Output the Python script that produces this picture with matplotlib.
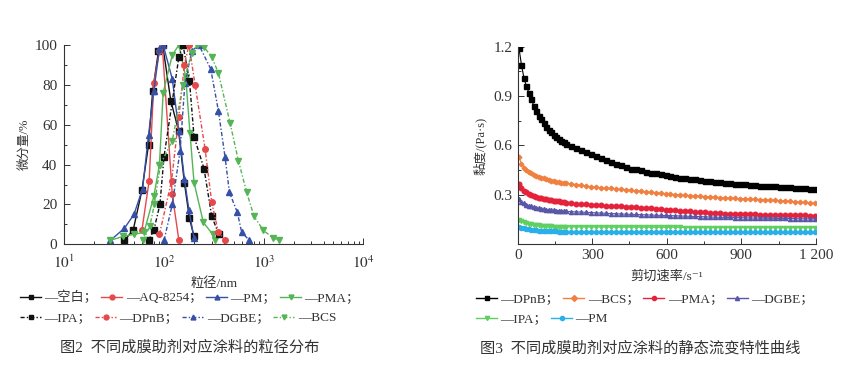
import numpy as np
import matplotlib
matplotlib.use("Agg")
import matplotlib.pyplot as plt
from matplotlib.lines import Line2D
from matplotlib.ticker import MultipleLocator, NullFormatter

SERIF_CJK = ['Liberation Serif', 'Noto Sans CJK SC', 'DejaVu Sans']
plt.rcParams['font.family'] = SERIF_CJK
plt.rcParams['mathtext.fontset'] = 'stix'

# ---------------- Figure 2 data: particle size distribution ----------------
blank_x = [40, 49, 60, 70, 77, 88, 97, 117, 140, 160, 180, 200]
blank_y = [2, 7, 27, 50, 77, 97, 100, 72, 57, 31, 13, 4]
aq_x = [60, 71, 79, 90, 96, 121, 141]
aq_y = [7, 32, 81, 97, 100, 25, 2]
pm_x = [29, 40, 50, 61, 70, 79, 90, 98, 121, 141, 160, 178, 200]
pm_y = [2, 8, 15, 28, 55, 77, 98, 100, 83, 57, 33, 17, 3]
pma_x = [29, 39, 50, 63, 79, 90, 98, 121, 141, 165, 182, 200, 248, 308, 325]
pma_y = [2, 4, 5, 6, 24, 40, 76, 95, 100, 84, 56, 31, 11, 5, 2]
ipa_x = [70, 79, 91, 100, 141, 155, 180, 200, 252, 301, 355]
ipa_y = [2, 7, 20, 44, 94, 100, 82, 54, 38, 14, 5]
dpnb_x = [90, 119, 141, 160, 178, 205, 258, 301, 351, 409]
dpnb_y = [5, 32, 64, 90, 100, 80, 48, 21, 6, 2]
dgbe_x = [100, 121, 145, 162, 190, 224, 294, 351, 409, 453, 544, 601, 718]
dgbe_y = [2, 20, 47, 81, 97, 100, 88, 67, 44, 26, 16, 6, 2]
bcs_x = [62, 72, 80, 92, 121, 155, 190, 215, 252, 301, 351, 459, 557, 675, 800, 993, 1250, 1436]
bcs_y = [2, 9, 20, 40, 52, 80, 96, 100, 99, 94, 86, 61, 42, 26, 14, 7, 3, 2]

# ---------------- Figure 3 data: viscosity vs shear rate ----------------
shear = list(range(5, 200, 10)) + list(range(215, 1200, 20))
v_dpnb = [1.19, 1.09, 1.01, 0.96, 0.92, 0.88, 0.84, 0.81, 0.78, 0.76,
          0.735, 0.715, 0.695, 0.68, 0.665, 0.65, 0.64, 0.63, 0.62, 0.61,
          0.598, 0.585, 0.572, 0.56, 0.548, 0.537, 0.523, 0.51, 0.50, 0.49,
          0.48, 0.47, 0.46, 0.455, 0.45, 0.44, 0.435, 0.43, 0.425, 0.42,
          0.415, 0.41, 0.405, 0.40, 0.397, 0.394, 0.39, 0.386, 0.383, 0.38,
          0.378, 0.375, 0.372, 0.369, 0.366, 0.364, 0.361, 0.359, 0.357, 0.355,
          0.353, 0.351, 0.349, 0.347, 0.345, 0.343, 0.341, 0.339, 0.337, 0.335]
v_bcs = [0.53, 0.49, 0.465, 0.45, 0.44, 0.43, 0.42, 0.415, 0.41, 0.405,
         0.40, 0.395, 0.39, 0.386, 0.382, 0.379, 0.376, 0.374, 0.372, 0.37,
         0.368, 0.363, 0.358, 0.354, 0.35, 0.347, 0.344, 0.341, 0.339, 0.337,
         0.334, 0.331, 0.328, 0.325, 0.322, 0.319, 0.316, 0.313, 0.31, 0.307,
         0.304, 0.302, 0.30, 0.298, 0.296, 0.294, 0.292, 0.29, 0.288, 0.286,
         0.283, 0.282, 0.28, 0.279, 0.277, 0.276, 0.274, 0.273, 0.271, 0.27,
         0.269, 0.267, 0.265, 0.263, 0.261, 0.258, 0.256, 0.254, 0.251, 0.249]
v_pma = [0.365, 0.34, 0.325, 0.315, 0.305, 0.298, 0.293, 0.288, 0.284, 0.28,
         0.277, 0.273, 0.27, 0.267, 0.265, 0.262, 0.26, 0.258, 0.255, 0.253,
         0.25, 0.247, 0.244, 0.242, 0.24, 0.238, 0.236, 0.234, 0.233, 0.232,
         0.231, 0.229, 0.227, 0.225, 0.222, 0.22, 0.218, 0.215, 0.213, 0.21,
         0.208, 0.206, 0.204, 0.202, 0.2, 0.198, 0.196, 0.194, 0.192, 0.19,
         0.188, 0.187, 0.186, 0.185, 0.184, 0.183, 0.182, 0.181, 0.18, 0.179,
         0.178, 0.178, 0.177, 0.177, 0.176, 0.176, 0.175, 0.175, 0.174, 0.174]
v_dgbe = [0.275, 0.258, 0.248, 0.241, 0.235, 0.23, 0.226, 0.222, 0.218, 0.215,
          0.213, 0.211, 0.209, 0.207, 0.206, 0.204, 0.203, 0.202, 0.201, 0.2,
          0.198, 0.197, 0.196, 0.194, 0.193, 0.191, 0.19, 0.188, 0.187, 0.186,
          0.184, 0.183, 0.182, 0.181, 0.18, 0.179, 0.178, 0.177, 0.176, 0.175,
          0.174, 0.173, 0.172, 0.171, 0.17, 0.169, 0.168, 0.167, 0.166, 0.165,
          0.164, 0.164, 0.163, 0.162, 0.162, 0.161, 0.16, 0.16, 0.159, 0.159,
          0.158, 0.158, 0.157, 0.157, 0.156, 0.156, 0.155, 0.155, 0.154, 0.154]
v_ipa = [0.148, 0.14, 0.135, 0.13, 0.125, 0.122, 0.12, 0.117, 0.115, 0.113,
         0.112, 0.111, 0.11, 0.109, 0.108, 0.108, 0.107, 0.107, 0.106, 0.106,
         0.106, 0.106, 0.105, 0.105, 0.105, 0.105, 0.105, 0.104, 0.104, 0.104,
         0.104, 0.104, 0.104, 0.104, 0.103, 0.103, 0.103, 0.103, 0.103, 0.103,
         0.103, 0.103, 0.103, 0.102, 0.102, 0.102, 0.102, 0.102, 0.102, 0.102,
         0.102, 0.102, 0.102, 0.102, 0.102, 0.101, 0.101, 0.101, 0.101, 0.101,
         0.101, 0.101, 0.101, 0.101, 0.101, 0.101, 0.101, 0.101, 0.101, 0.101]
v_pm = [0.107, 0.102, 0.098, 0.094, 0.09, 0.088, 0.086, 0.084, 0.083, 0.081,
        0.08, 0.08, 0.079, 0.079, 0.078, 0.078, 0.077, 0.077, 0.077, 0.077,
        0.077, 0.077, 0.077, 0.077, 0.077, 0.077, 0.077, 0.076, 0.076, 0.076,
        0.076, 0.076, 0.076, 0.076, 0.076, 0.076, 0.076, 0.075, 0.075, 0.075,
        0.075, 0.075, 0.075, 0.075, 0.075, 0.075, 0.075, 0.075, 0.075, 0.074,
        0.074, 0.074, 0.074, 0.074, 0.074, 0.074, 0.074, 0.074, 0.074, 0.074,
        0.074, 0.074, 0.074, 0.073, 0.073, 0.073, 0.073, 0.073, 0.073, 0.073]

labels2 = ['—空白；', '—AQ-8254；', '—PM；', '—PMA；', '—IPA；', '—DPnB；', '—DGBE；', '—BCS']
labels3 = ['—DPnB；', '—BCS；', '—PMA；', '—DGBE；', '—IPA；', '—PM']

BLACK = '#111111'
RED2 = '#e5494c'
BLUE2 = '#3550a6'
GREEN2 = '#55b455'
TXT = '#333333'

fig = plt.figure(figsize=(8.45, 3.66), dpi=100)

# ---------------- Left axes ----------------
ax1 = fig.add_axes([0.0761, 0.3325, 0.3540, 0.5445])
solid_ls = '-'
dash_ls = (0, (3, 1.5, 1, 1.5))
ms = 4.0
series2 = [
    (blank_x, blank_y, BLACK, 's', solid_ls),
    (aq_x, aq_y, RED2, 'o', solid_ls),
    (pm_x, pm_y, BLUE2, '^', solid_ls),
    (pma_x, pma_y, GREEN2, 'v', solid_ls),
    (ipa_x, ipa_y, BLACK, 's', dash_ls),
    (dpnb_x, dpnb_y, RED2, 'o', dash_ls),
    (dgbe_x, dgbe_y, BLUE2, '^', dash_ls),
    (bcs_x, bcs_y, GREEN2, 'v', dash_ls),
]
handles2 = []
for (xs, ys, c, m, ls), lab in zip(series2, labels2):
    ax1.plot(xs, ys, color=c, marker=m, ms=ms, lw=1.0, ls=ls, mec=c, mfc=c)
    handles2.append(Line2D([], [], color=c, marker=m, ms=3.5, lw=1.0, ls=ls, mec=c, mfc=c))

ax1.set_xscale('log')
ax1.set_xlim(10, 10000)
ax1.set_ylim(0, 100)
ax1.yaxis.set_major_locator(MultipleLocator(20))
ax1.yaxis.set_minor_locator(MultipleLocator(10))
ax1.set_xticks([10, 100, 1000, 10000])
ax1.set_xticklabels([r'$10^{1}$', r'$10^{2}$', r'$10^{3}$', r'$10^{4}$'])
ax1.xaxis.set_minor_formatter(NullFormatter())
ax1.set_ylabel('微分量/%', fontsize=9, labelpad=3, color=TXT)
ax1.set_xlabel('粒径/nm', fontsize=9.5, labelpad=4, color=TXT)

# ---------------- Right axes ----------------
ax2 = fig.add_axes([0.6127, 0.3325, 0.3527, 0.5400])
series3 = [
    (v_dpnb, 'black', 's', 3.6),
    (v_bcs, '#f08040', 'D', 2.4),
    (v_pma, '#e5223c', 'o', 3.3),
    (v_dgbe, '#5a56a8', '^', 3.0),
    (v_ipa, '#5fcf5f', 'v', 3.0),
    (v_pm, '#2ab0e8', 'o', 3.0),
]
handles3 = []
for (ys, c, m, s), lab in zip(series3, labels3):
    ax2.plot(shear, ys, color=c, marker=m, ms=s, lw=0.8, mec=c, mfc=c)
    handles3.append(Line2D([], [], color=c, marker=m, ms=3.0, lw=1.0, mec=c, mfc=c))

ax2.set_xlim(0, 1200)
ax2.set_ylim(0, 1.2)
ax2.set_yticks([0.3, 0.6, 0.9, 1.2])
ax2.set_yticklabels(['0.3', '0.6', '0.9', '1.2'])
ax2.yaxis.set_minor_locator(MultipleLocator(0.15))
ax2.set_xticks([0, 300, 600, 900, 1200])
ax2.set_xticklabels(['0', '300', '600', '900', '1 200'])
ax2.xaxis.set_minor_locator(MultipleLocator(150))
ax2.set_ylabel('黏度/(Pa·s)', fontsize=9, labelpad=5, color=TXT)
ax2.set_xlabel('剪切速率/s⁻¹', fontsize=9.5, labelpad=6, color=TXT)

for ax in (ax1, ax2):
    for s in ('top', 'right'):
        ax.spines[s].set_visible(False)
    for s in ('left', 'bottom'):
        ax.spines[s].set_color(TXT)
        ax.spines[s].set_linewidth(0.8)
    ax.tick_params(which='both', direction='in', colors=TXT, labelcolor=TXT, width=0.7)
    ax.tick_params(which='major', length=4, labelsize=11)
    ax.tick_params(which='minor', length=2.5)
    ax.patch.set_alpha(0)
ax1.tick_params(axis='y', which='major', pad=5)
ax1.tick_params(axis='x', which='major', pad=7)

# ---------------- Legends ----------------
leg_kw = dict(frameon=False, fontsize=9.5, handlelength=1.6, handletextpad=0.25,
              columnspacing=0.3, borderpad=0, borderaxespad=0, labelcolor=TXT)
fig.legend(handles2[:4], labels2[:4], ncol=4, loc='upper left',
           bbox_to_anchor=(20 / 845, 1 - 291 / 366), **leg_kw)
fig.legend(handles2[4:], labels2[4:], ncol=4, loc='upper left',
           bbox_to_anchor=(20 / 845, 1 - 312 / 366), **leg_kw)
fig.legend(handles3[:4], labels3[:4], ncol=4, loc='upper left',
           bbox_to_anchor=(476 / 845, 1 - 293 / 366), **leg_kw)
fig.legend(handles3[4:], labels3[4:], ncol=2, loc='upper left',
           bbox_to_anchor=(476 / 845, 1 - 313 / 366), **leg_kw)

# ---------------- Captions ----------------
fig.text(60 / 845, 1 - 348 / 366, '图2  不同成膜助剂对应涂料的粒径分布', fontsize=11,
         va='center', ha='left', color=TXT)
fig.text(480 / 845, 1 - 348 / 366, '图3  不同成膜助剂对应涂料的静态流变特性曲线', fontsize=11,
         va='center', ha='left', color=TXT)

fig.savefig('out.png', dpi=100)
